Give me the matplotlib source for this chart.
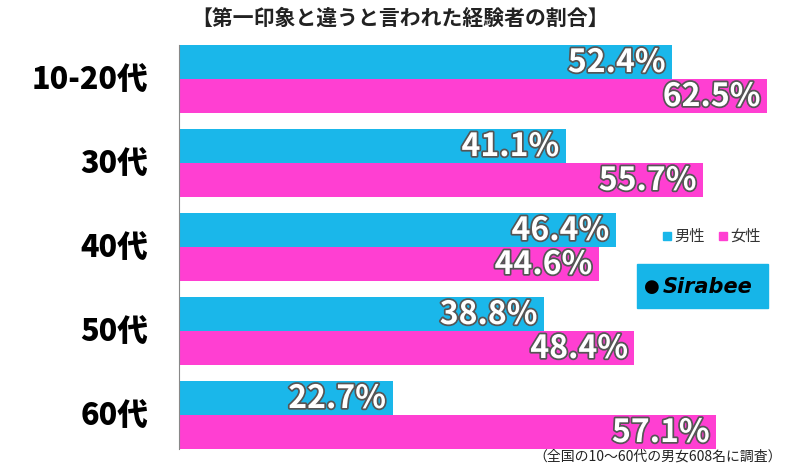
import matplotlib
matplotlib.use("Agg")
import matplotlib.pyplot as plt
import matplotlib.patheffects as pe

plt.rcParams["font.family"] = "Noto Sans CJK JP"

categories = ["10-20代", "30代", "40代", "50代", "60代"]
male = [52.4, 41.1, 46.4, 38.8, 22.7]
female = [62.5, 55.7, 44.6, 48.4, 57.1]
title = "【第一印象と違うと言われた経験者の割合】"
note = "（全国の10～60代の男女608名に調査）"

BLUE = "#1ab7ea"
PINK = "#ff3fd2"

W, H = 800, 466
fig = plt.figure(figsize=(W / 100, H / 100), dpi=100)
top, bottom, left = 45, 449, 179
ax = fig.add_axes([left / W, 1 - bottom / H, 1 - left / W, (bottom - top) / H])
ax.set_xlim(0, (W - left) / 9.41)
pitch = 84
n = len(categories)
bh = 34
stroke = [pe.withStroke(linewidth=2.5, foreground="#555555")]
for i, (cat, m, f) in enumerate(zip(categories, male, female)):
    y0 = i * pitch
    ax.barh(y0 + bh / 2, m, height=bh, color=BLUE)
    ax.barh(y0 + bh * 1.5, f, height=bh, color=PINK)
    ax.text(m - 0.7, y0 + bh / 2 + 1, f"{m:.1f}%", ha="right", va="center",
            color="white", fontsize=23, fontweight="bold", path_effects=stroke)
    ax.text(f - 0.7, y0 + bh * 1.5 + 1, f"{f:.1f}%", ha="right", va="center",
            color="white", fontsize=23, fontweight="bold", path_effects=stroke)
    fig.text(148 / W, 1 - (top + y0 + bh) / H, cat, ha="right", va="center",
             fontsize=22, fontweight="heavy", color="#000000")
ax.set_ylim((n - 1) * pitch + 2 * bh, 0)
for s in ["top", "right", "bottom"]:
    ax.spines[s].set_visible(False)
ax.spines["left"].set_color("#888888")
ax.set_xticks([])
ax.set_yticks([])

fig.text(400 / W, 1 - 18 / H, title, ha="center", va="center", fontsize=15,
         fontweight="bold", color="#222222")
fig.text(782 / W, 1 - 457 / H, note, ha="right", va="center", fontsize=10,
         color="#222222")

# legend
fig.patches.append(plt.Rectangle((663 / W, 1 - 240 / H), 8 / W, 8 / H,
                                 color=BLUE, transform=fig.transFigure))
fig.text(674 / W, 1 - 236 / H, "男性", va="center", fontsize=11, color="#333333")
fig.patches.append(plt.Rectangle((719 / W, 1 - 240 / H), 8 / W, 8 / H,
                                 color=PINK, transform=fig.transFigure))
fig.text(730 / W, 1 - 236 / H, "女性", va="center", fontsize=11, color="#333333")

# logo
fig.patches.append(plt.Rectangle((637 / W, 1 - 308 / H), 131 / W, 44 / H,
                                 color="#16b5e8", transform=fig.transFigure))
fig.text(652 / W, 1 - 287 / H, "●", ha="center", va="center", fontsize=13,
         color="black", family="DejaVu Sans")
fig.text(663 / W, 1 - 287 / H, "Sirabee", va="center", fontsize=15,
         fontweight="bold", style="italic", color="black", family="DejaVu Sans")

fig.savefig("out.png", dpi=100)
